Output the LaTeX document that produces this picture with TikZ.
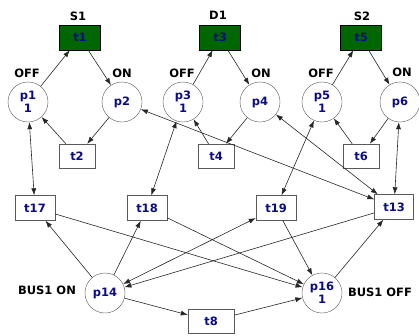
\documentclass[tikz,border=0pt]{standalone}
\usepackage{fontspec}
\setmainfont{DejaVu Sans}
\usetikzlibrary{arrows.meta}
\definecolor{trgreen}{RGB}{0,102,0}
\definecolor{tokblue}{RGB}{10,10,140}
\definecolor{rim}{RGB}{90,90,90}
\begin{document}
\begin{tikzpicture}
    \def\dx{10pt}
    \def\dy{-10pt}
    \useasboundingbox (0,0) rectangle (41.9*\dx,33.5*\dy);

    \tikzstyle{place}=[circle,draw=rim,fill=white,minimum size=40pt,inner sep=0pt,align=center,
        font=\bfseries\fontsize{11.5}{13}\selectfont,text=tokblue]
    \tikzstyle{trans}=[rectangle,draw=rim,fill=white,minimum width=40pt,minimum height=25pt,inner sep=0pt,
        font=\bfseries\fontsize{11.5}{13}\selectfont,text=tokblue]
    \tikzstyle{switch}=[trans,fill=trgreen,draw=black,minimum width=41pt]
    \tikzstyle{small}=[minimum width=36pt,minimum height=24pt]
    \tikzstyle{tag}=[font=\bfseries\fontsize{11.5}{13}\selectfont,text=black,inner sep=0pt]

    % switches
    \node[switch] (t1) at (8.0*\dx,3.75*\dy) {t1};
    \node[switch] (t3) at (22.0*\dx,3.75*\dy) {t3};
    \node[switch] (t5) at (36.1*\dx,3.75*\dy) {t5};
    \node[tag] (s1) at (7.8*\dx,1.6*\dy) {S1};
    \node[tag] (d1) at (21.8*\dx,1.5*\dy) {D1};
    \node[tag] (s2) at (36.2*\dx,1.6*\dy) {S2};

    % places
    \node[place] (p1) at (2.8*\dx,10.2*\dy) {p1\\1};
    \node[place] (p2) at (12.2*\dx,10.2*\dy) {p2};
    \node[place] (p3) at (18.3*\dx,10.2*\dy) {p3\\1};
    \node[place] (p4) at (26.0*\dx,10.2*\dy) {p4};
    \node[place] (p5) at (32.2*\dx,10.2*\dy) {p5\\1};
    \node[place] (p6) at (40.0*\dx,10.2*\dy) {p6};
    \node[tag] (off1) at (2.7*\dx,7.3*\dy) {OFF};
    \node[tag] (on1) at (12.2*\dx,7.3*\dy) {ON};
    \node[tag] (off2) at (18.2*\dx,7.3*\dy) {OFF};
    \node[tag] (on2) at (26.1*\dx,7.3*\dy) {ON};
    \node[tag] (off3) at (32.1*\dx,7.3*\dy) {OFF};
    \node[tag] (on3) at (40.2*\dx,7.2*\dy) {ON};

    \node[trans,small] (t2) at (7.7*\dx,15.6*\dy) {t2};
    \node[trans,small] (t4) at (21.6*\dx,15.6*\dy) {t4};
    \node[trans,small] (t6) at (36.1*\dx,15.6*\dy) {t6};

    % bus
    \node[trans] (t17) at (3.5*\dx,20.8*\dy) {t17};
    \node[trans] (t18) at (14.7*\dx,20.8*\dy) {t18};
    \node[trans] (t19) at (27.6*\dx,20.8*\dy) {t19};
    \node[trans,minimum width=39pt] (t13) at (39.4*\dx,20.7*\dy) {t13};
    \node[place] (p14) at (10.5*\dx,29.3*\dy) {p14};
    \node[place] (p16) at (32.2*\dx,29.3*\dy) {p16\\1};
    \node[trans,minimum width=46pt,minimum height=24pt] (t8) at (21.1*\dx,32.1*\dy) {t8};
    \node[tag] (buson) at (4.7*\dx,29.0*\dy) {BUS1 ON};
    \node[tag] (busoff) at (38.0*\dx,29.2*\dy) {BUS1 OFF};

    \tikzstyle{fwd} = [draw=black!85, line width=0.6pt, -{Latex[length=7pt,width=5pt]}]
    \tikzstyle{both} = [fwd, {Latex[length=7pt,width=5pt]}-{Latex[length=7pt,width=5pt]}]

          \draw [fwd] (p1) -- (t1);
          \draw [fwd] (t1) -- (p2);
          \draw [fwd] (p2) -- (t2);
          \draw [fwd] (t2) -- (p1);
          \draw [fwd] (p3) -- (t3);
          \draw [fwd] (t3) -- (p4);
          \draw [fwd] (p4) -- (t4);
          \draw [fwd] (t4) -- (p3);
          \draw [fwd] (p5) -- (t5);
          \draw [fwd] (t5) -- (p6);
          \draw [fwd] (p6) -- (t6);
          \draw [fwd] (t6) -- (p5);

          \draw [both] (p1) -- (t17);
          \draw [both] (p3) -- (t18);
          \draw [both] (p5) -- (t19);
          \draw [both] (p6) -- (t13);
          \draw [both] (p2) -- (t13);
          \draw [both] (p4) -- (t13);

          \draw [fwd] (p14) -- (t17);
          \draw [fwd] (p14) -- (t18);
          \draw [both] (p14) -- (t19);
          \draw [fwd] (t13) -- (p14);
          \draw [fwd] (p14) -- (t8);
          \draw [fwd] (t17) -- (p16);
          \draw [fwd] (t18) -- (p16);
          \draw [fwd] (t19) -- (p16);
          \draw [fwd] (t8) -- (p16);
          \draw [fwd] (p16) -- (t13);
\end{tikzpicture}
\end{document}
